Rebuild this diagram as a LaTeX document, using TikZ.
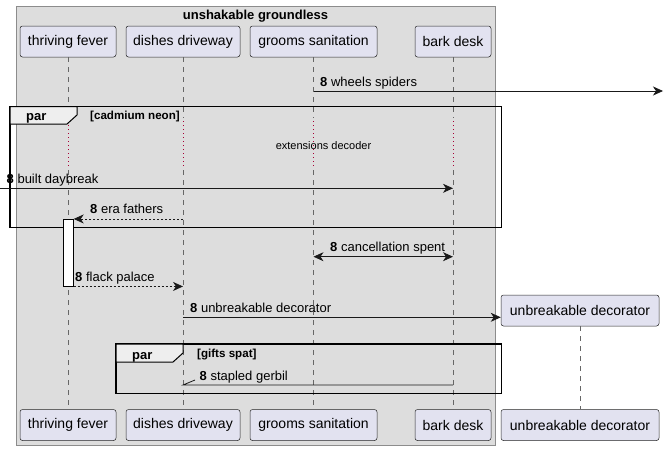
\documentclass[tikz,border=0pt]{standalone}
\usepackage{fontspec}
\setmainfont{Liberation Sans}
\usetikzlibrary{arrows.meta,calc}

\begin{document}
\begin{tikzpicture}[x=1pt,y=-1pt,
    actorbox/.style={draw=black!85, line width=0.5pt, fill=actorfill, rounded corners=2.5pt,
        minimum height=31pt, inner xsep=0pt, font=\fontsize{14}{16}\selectfont},
    lifeline/.style={draw=black!60, line width=0.5pt, dash pattern=on 5pt off 5pt},
    delayline/.style={draw=delayred, line width=0.9pt, dash pattern=on 1pt off 3pt},
    msg/.style={-{Stealth[length=10pt,width=9pt,inset=3pt]}, line width=0.8pt, draw=black!90},
    dashmsg/.style={msg, dash pattern=on 2pt off 2pt},
    msglabel/.style={anchor=base west, inner sep=0pt, font=\fontsize{13}{15}\selectfont},
    parframe/.style={draw=black, line width=1.5pt},
    partab/.style={draw=black, line width=1pt, fill=tabgrey},
    small/.style={anchor=base west, inner sep=0pt, font=\bfseries\fontsize{11.6}{13}\selectfont}]
    % Define colours
    \definecolor{actorfill}{RGB}{226,226,240}
    \definecolor{groupgrey}{RGB}{221,221,221}
    \definecolor{tabgrey}{RGB}{238,238,238}
    \definecolor{delayred}{RGB}{168,0,54}
    \useasboundingbox (0,0) rectangle (664,450);

    % Draw the group box
    \draw[draw=black!45, fill=groupgrey] (16,6) rectangle (495.5,445);
    \node[anchor=base, inner sep=0pt, font=\bfseries\fontsize{13}{15}\selectfont] (grpTitle) at (255.5,19) {unshakable groundless};

    % Draw the participants (top and bottom)
    \node[actorbox, minimum width=96pt] (tf-top) at (68,41.5) {thriving fever};
    \node[actorbox, minimum width=114pt] (dd-top) at (183,41.5) {dishes driveway};
    \node[actorbox, minimum width=127pt] (gs-top) at (313.5,41.5) {grooms sanitation};
    \node[actorbox, minimum width=76pt] (bd-top) at (453,41.5) {bark desk};
    \node[actorbox, minimum width=96pt] (tf-bot) at (68,425) {thriving fever};
    \node[actorbox, minimum width=114pt] (dd-bot) at (183,425) {dishes driveway};
    \node[actorbox, minimum width=127pt] (gs-bot) at (313.5,425) {grooms sanitation};
    \node[actorbox, minimum width=76pt] (bd-bot) at (453,425) {bark desk};
    \node[actorbox, minimum width=158pt] (ud-top) at (580,310.5) {unbreakable decorator};
    \node[actorbox, minimum width=158pt] (ud-bot) at (580,425) {unbreakable decorator};

    % Draw the lifelines, dotted during the delay
    \foreach \p in {tf,dd,gs,bd} {
        \draw[lifeline] (\p-top.south) -- (\p-top |- 0,118);
        \draw[delayline] (\p-top |- 0,121) -- (\p-top |- 0,168);
        \draw[lifeline] (\p-top |- 0,170) -- (\p-bot.north);
    }
    \draw[lifeline] (ud-top.south) -- (ud-bot.north);
    \node[anchor=base, inner sep=0pt, font=\fontsize{11}{13}\selectfont] (delayText) at (323.5,149.5) {extensions decoder};

    % Draw the par frames
    \draw[parframe] (10,106.5) rectangle (501.5,227.5);
    \draw[partab] (10,106.5) -- (77,106.5) -- (77,115) -- (67,124) -- (10,124) -- cycle;
    \node[anchor=base west, inner sep=0pt, font=\bfseries\fontsize{13}{15}\selectfont] (parA) at (26,120.5) {par};
    \node[small] (condA) at (90,119.5) {[cadmium neon]};
    \draw[parframe] (116,344) rectangle (501.5,393.3);
    \draw[partab] (116,344) -- (183,344) -- (183,353) -- (173,362) -- (116,362) -- cycle;
    \node[anchor=base west, inner sep=0pt, font=\bfseries\fontsize{13}{15}\selectfont] (parB) at (132,359) {par};
    \node[small] (condB) at (197,357.5) {[gifts spat]};

    % Draw the activation
    \node[draw=black, line width=0.8pt, fill=white, minimum width=10pt, minimum height=66.7pt, inner sep=0pt] (act) at (68.3,252.7) {};

    % Draw the messages
    \coordinate (outR) at (663,91);
    \coordinate (inL) at (0,188.3);
    \draw[msg] (gs-top |- outR) -- (outR);
    \node[msglabel] (lblA) at (320,86) {\textbf{8} wheels spiders};
    \draw[msg] (inL) -- (bd-top |- inL);
    \node[msglabel] (lblB) at (6.5,183.3) {\textbf{8} built daybreak};
    \draw[dashmsg] (dd-top |- act.north east) -- (act.north east);
    \node[msglabel] (lblC) at (90,213.5) {\textbf{8} era fathers};
    \draw[msg, {Stealth[length=10pt,width=9pt,inset=3pt]}-{Stealth[length=10pt,width=9pt,inset=3pt]}] (gs-top |- 0,256.7) -- (bd-top |- 0,256.7);
    \node[msglabel] (lblD) at (330,251.7) {\textbf{8} cancellation spent};
    \draw[dashmsg] (act.south east) -- (dd-top |- act.south east);
    \node[msglabel] (lblE) at (75,281.7) {\textbf{8} flack palace};
    \draw[msg] (dd-top |- 0,317.3) -- (ud-top.west |- 0,317.3);
    \node[msglabel] (lblF) at (190,312.3) {\textbf{8} unbreakable decorator};
    \draw[line width=0.8pt, draw=black!90] (bd-top |- 0,385) -- (dd-top |- 0,385) -- ++(12,-5);
    \node[msglabel] (lblG) at (199.5,380) {\textbf{8} stapled gerbil};
\end{tikzpicture}
\end{document}
